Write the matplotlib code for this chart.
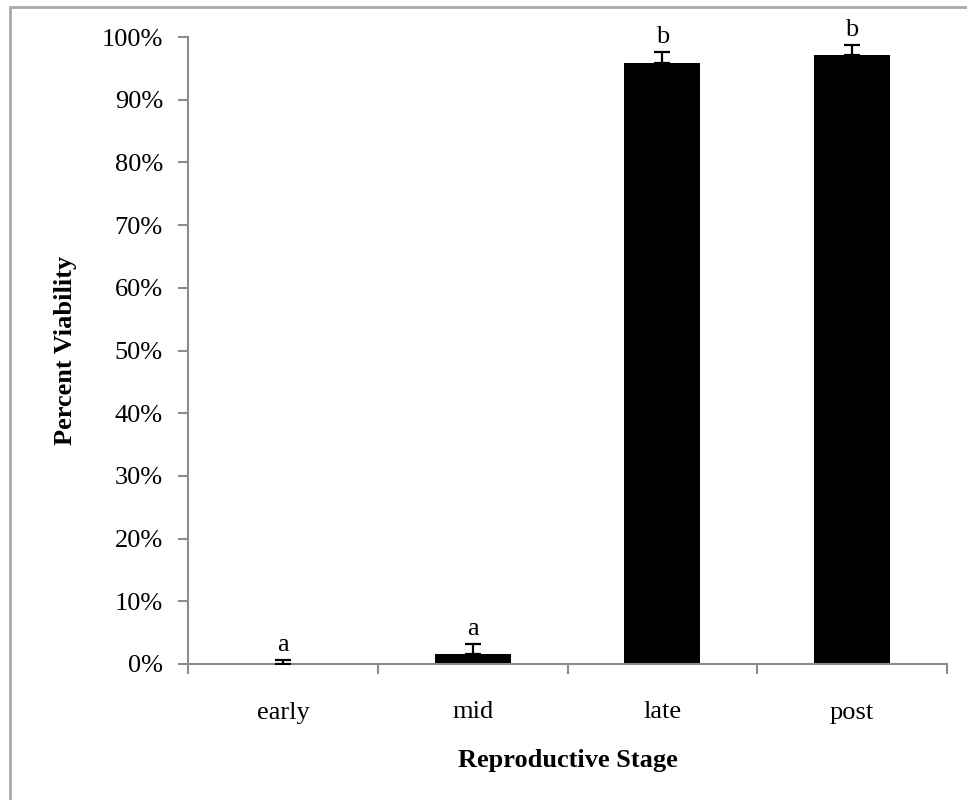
import numpy as np
import matplotlib.pyplot as plt
from matplotlib.patches import Rectangle

stages = ['early', 'mid', 'late', 'post']
viability = [0.0, 1.6, 95.9, 97.2]
upper_err = [0.6, 1.6, 1.7, 1.6]
letters = ['a', 'a', 'b', 'b']

plt.rcParams['font.family'] = ['Liberation Serif', 'DejaVu Serif']
fs = 19

fig = plt.figure(figsize=(9.67, 8), dpi=100)
ax = fig.add_axes([188/967, 136/800, (947-188)/967, (664-37)/800])

x = np.arange(len(stages))
vals = np.array(viability) / 100
errs = np.array(upper_err) / 100
ax.bar(x, vals, width=0.4, color='black', zorder=2)
ax.errorbar(x, vals, yerr=[np.zeros(len(x)), errs], fmt='none', ecolor='black',
            elinewidth=1.6, capsize=6, capthick=1.6, zorder=3)
for xi, v, e, s in zip(x, vals, errs, letters):
    ax.text(xi, v + e + 0.006, s, ha='center', va='bottom', fontsize=fs)

ax.set_xlim(-0.5, len(stages) - 0.5)
ax.set_ylim(0, 1)
ax.set_yticks(np.arange(0, 1.01, 0.1))
ax.set_yticklabels(['%d%%' % (t * 10) for t in range(11)], fontsize=fs)
ax.set_xticks(x)
ax.set_xticklabels(stages, fontsize=fs)
ax.set_xticks(np.arange(-0.5, len(stages)), minor=True)
ax.tick_params(axis='x', which='major', length=0, pad=27)
ax.tick_params(axis='x', which='minor', length=7, width=1.5, color='#8c8c8c', direction='out')
ax.tick_params(axis='y', length=7, width=1.5, color='#8c8c8c', direction='out', pad=11)

for side in ['top', 'right']:
    ax.spines[side].set_visible(False)
for side in ['left', 'bottom']:
    ax.spines[side].set_color('#8c8c8c')
    ax.spines[side].set_linewidth(1.5)

ax.set_ylabel('Percent Viability', fontsize=fs, fontweight='bold', labelpad=18)
ax.set_xlabel('Reproductive Stage', fontsize=fs, fontweight='bold', labelpad=18)

# frame around the chart area
fig.patches.append(Rectangle((10/967, -0.1), 1.2, (793 + 80)/800, transform=fig.transFigure,
                             fill=False, edgecolor='#a8a8a8', linewidth=2))

fig.savefig('out.png', dpi=100)
